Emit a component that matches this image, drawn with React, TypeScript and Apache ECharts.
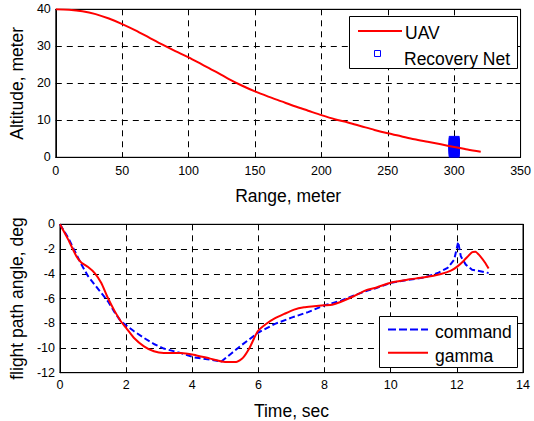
import React, { useEffect, useRef } from "react";
import * as echarts from "echarts";

// Top plot: UAV altitude vs range
const rangeM = [0, 10, 20, 30, 40, 50, 60, 70, 80, 90, 100, 110, 120, 130, 140, 150, 160, 170, 180, 190, 200, 210, 220, 230, 240, 250, 260, 270, 280, 290, 300, 310, 320];
const altitudeM = [40, 39.9, 39.5, 38.7, 37.5, 36.0, 34.3, 32.4, 30.5, 28.7, 27.0, 25.1, 23.2, 21.2, 19.4, 17.8, 16.4, 15.1, 13.8, 12.6, 11.4, 10.3, 9.4, 8.4, 7.4, 6.5, 5.7, 4.9, 4.2, 3.5, 2.8, 2.1, 1.5];

// Recovery net markers
const netRange = [300, 300, 300, 300, 300, 300, 300, 300];
const netAltitude = [1.4, 1.8, 2.2, 2.6, 3.0, 3.4, 3.8, 4.3];

// Bottom plot: flight path angle vs time
const gammaTime = [0, 0.25, 0.5, 0.65, 0.85, 1.05, 1.25, 1.45, 1.65, 1.84, 2.0, 2.24, 2.54, 2.84, 3.14, 3.64, 4.04, 4.54, 4.99, 5.33, 5.53, 5.73, 5.98, 6.23, 6.48, 6.78, 7.08, 7.38, 7.68, 7.98, 8.23, 8.48, 8.88, 9.28, 9.52, 10.02, 10.52, 11.02, 11.52, 11.82, 12.02, 12.21, 12.46, 12.56, 12.71, 12.86, 12.96];
const gammaDeg = [0, -1.24, -2.6, -3.1, -3.45, -3.94, -4.74, -5.96, -7.0, -7.84, -8.38, -9.19, -9.87, -10.27, -10.4, -10.4, -10.54, -10.86, -11.13, -11.13, -10.8, -10.0, -8.65, -8.06, -7.63, -7.25, -6.9, -6.71, -6.63, -6.55, -6.5, -6.28, -5.82, -5.3, -5.15, -4.7, -4.47, -4.29, -4.02, -3.75, -3.4, -2.94, -2.26, -2.21, -2.59, -3.13, -3.58];

const commandTime = [0, 0.25, 0.5, 0.65, 0.85, 1.05, 1.25, 1.45, 1.65, 1.84, 2.0, 2.24, 2.54, 2.84, 3.14, 3.64, 4.04, 4.54, 4.88, 5.2, 5.5, 6.0, 6.5, 7.0, 7.5, 8.0, 8.5, 8.9, 9.3, 9.52, 10.02, 10.52, 11.02, 11.42, 11.72, 11.92, 12.04, 12.12, 12.27, 12.46, 12.71, 12.96];
const commandDeg = [0, -1.1, -2.45, -3.26, -4.2, -4.88, -5.55, -6.23, -7.1, -7.84, -8.17, -8.65, -9.19, -9.68, -10.05, -10.4, -10.75, -10.95, -11.1, -10.4, -9.75, -8.75, -8.05, -7.55, -7.1, -6.55, -6.17, -5.74, -5.36, -5.2, -4.72, -4.5, -4.29, -3.94, -3.53, -2.86, -1.43, -2.59, -3.26, -3.67, -3.8, -3.94];

const FONT = "'Liberation Sans', Arial, Helvetica, sans-serif";
const TICK_FS = 12.5;
const NAME_FS = 17.5;

function pairs(xs: number[], ys: number[]) {
  return xs.map((x, i) => [x, ys[i]]);
}

function mainAxisCommon() {
  return {
    axisLine: { show: true, onZero: false, lineStyle: { color: "#000", width: 1 } },
    axisTick: { show: true, inside: true, length: 5, lineStyle: { color: "#000" } },
    splitLine: { show: true, lineStyle: { color: "#000", type: [6, 5], width: 1 } },
    nameTextStyle: { color: "#000", fontSize: NAME_FS, fontFamily: FONT },
    nameLocation: "middle" as const,
  };
}

function mirrorAxis(min: number, max: number, interval: number, gridIndex: number, position: string) {
  return {
    type: "value",
    gridIndex,
    position,
    min,
    max,
    interval,
    axisLine: { show: true, onZero: false, lineStyle: { color: "#000", width: 1 } },
    axisTick: { show: true, inside: true, length: 5, lineStyle: { color: "#000" } },
    axisLabel: { show: false },
    splitLine: { show: false },
  };
}

export default function App() {
  const ref = useRef<HTMLDivElement>(null);

  useEffect(() => {
    if (!ref.current) return;
    const chart = echarts.init(ref.current, undefined, { renderer: "svg" });
    const textStyle = (text: string) => ({ text, fill: "#000", font: `${NAME_FS}px ${FONT}`, verticalAlign: "middle" as const, align: "left" as const });
    const lbl = (margin: number) => ({ color: "#000", fontSize: TICK_FS, fontFamily: FONT, margin });
    chart.setOption({
      animation: false,
      backgroundColor: "#fff",
      grid: [
        { left: 55, top: 9.3, width: 468, height: 148, show: true, borderColor: "#000", borderWidth: 1, backgroundColor: "#fff" },
        { left: 55, top: 224.3, width: 468, height: 148.4, show: true, borderColor: "#000", borderWidth: 1, backgroundColor: "#fff" },
      ],
      xAxis: [
        { ...mainAxisCommon(), type: "value", gridIndex: 0, min: 0, max: 350, interval: 50, name: "Range, meter", nameGap: 30, axisLabel: lbl(7) },
        { ...mainAxisCommon(), type: "value", gridIndex: 1, min: 0, max: 14, interval: 2, name: "Time, sec", nameGap: 29, axisLabel: lbl(6) },
        mirrorAxis(0, 350, 50, 0, "top"),
        mirrorAxis(0, 14, 2, 1, "top"),
      ],
      yAxis: [
        { ...mainAxisCommon(), type: "value", gridIndex: 0, min: 0, max: 40, interval: 10, name: "Altitude, meter", nameGap: 23, axisLabel: lbl(5) },
        { ...mainAxisCommon(), type: "value", gridIndex: 1, min: -12, max: 0, interval: 2, name: "flight path angle, deg", nameGap: 30, axisLabel: lbl(5) },
        mirrorAxis(0, 40, 10, 0, "right"),
        mirrorAxis(-12, 0, 2, 1, "right"),
      ],
      series: [
        {
          name: "UAV",
          type: "line",
          xAxisIndex: 0,
          yAxisIndex: 0,
          data: pairs(rangeM, altitudeM),
          showSymbol: false,
          smooth: 0.3,
          lineStyle: { color: "#ff0000", width: 2 },
        },
        {
          name: "Recovery Net",
          type: "scatter",
          xAxisIndex: 0,
          yAxisIndex: 0,
          data: pairs(netRange, netAltitude),
          symbol: "rect",
          symbolSize: [10, 10],
          itemStyle: { color: "#0000ff", borderColor: "#0000ff", borderWidth: 1, opacity: 1 },
        },
        {
          name: "command",
          type: "line",
          xAxisIndex: 1,
          yAxisIndex: 1,
          data: pairs(commandTime, commandDeg),
          showSymbol: false,
          lineStyle: { color: "#0000ff", width: 2, type: [6, 3] },
        },
        {
          name: "gamma",
          type: "line",
          xAxisIndex: 1,
          yAxisIndex: 1,
          data: pairs(gammaTime, gammaDeg),
          showSymbol: false,
          smooth: 0.2,
          lineStyle: { color: "#ff0000", width: 2 },
        },
      ],
      graphic: [
        { type: "rect", z: 100, shape: { x: 349.5, y: 16.5, width: 168, height: 52 }, style: { fill: "#fff", stroke: "#000", lineWidth: 1 } },
        { type: "line", z: 101, shape: { x1: 358, y1: 31, x2: 402, y2: 31 }, style: { stroke: "#ff0000", lineWidth: 2 } },
        { type: "text", z: 101, x: 405, y: 33.2, style: textStyle("UAV") },
        { type: "rect", z: 101, shape: { x: 374.5, y: 50.5, width: 6, height: 6 }, style: { fill: "none", stroke: "#0000ff", lineWidth: 1 } },
        { type: "text", z: 101, x: 404, y: 58.9, style: textStyle("Recovery Net") },

        { type: "rect", z: 100, shape: { x: 379.5, y: 316.5, width: 138, height: 51 }, style: { fill: "#fff", stroke: "#000", lineWidth: 1 } },
        { type: "line", z: 101, shape: { x1: 388, y1: 329.5, x2: 428, y2: 329.5 }, style: { stroke: "#0000ff", lineWidth: 2, lineDash: [8, 3] } },
        { type: "text", z: 101, x: 435, y: 332.2, style: textStyle("command") },
        { type: "line", z: 101, shape: { x1: 388, y1: 352.7, x2: 428, y2: 352.7 }, style: { stroke: "#ff0000", lineWidth: 2 } },
        { type: "text", z: 101, x: 435, y: 355.6, style: textStyle("gamma") },
      ],
    });
    return () => chart.dispose();
  }, []);

  return <div ref={ref} style={{ position: "fixed", left: 0, top: 0, width: 534, height: 421, background: "#fff" }} />;
}
